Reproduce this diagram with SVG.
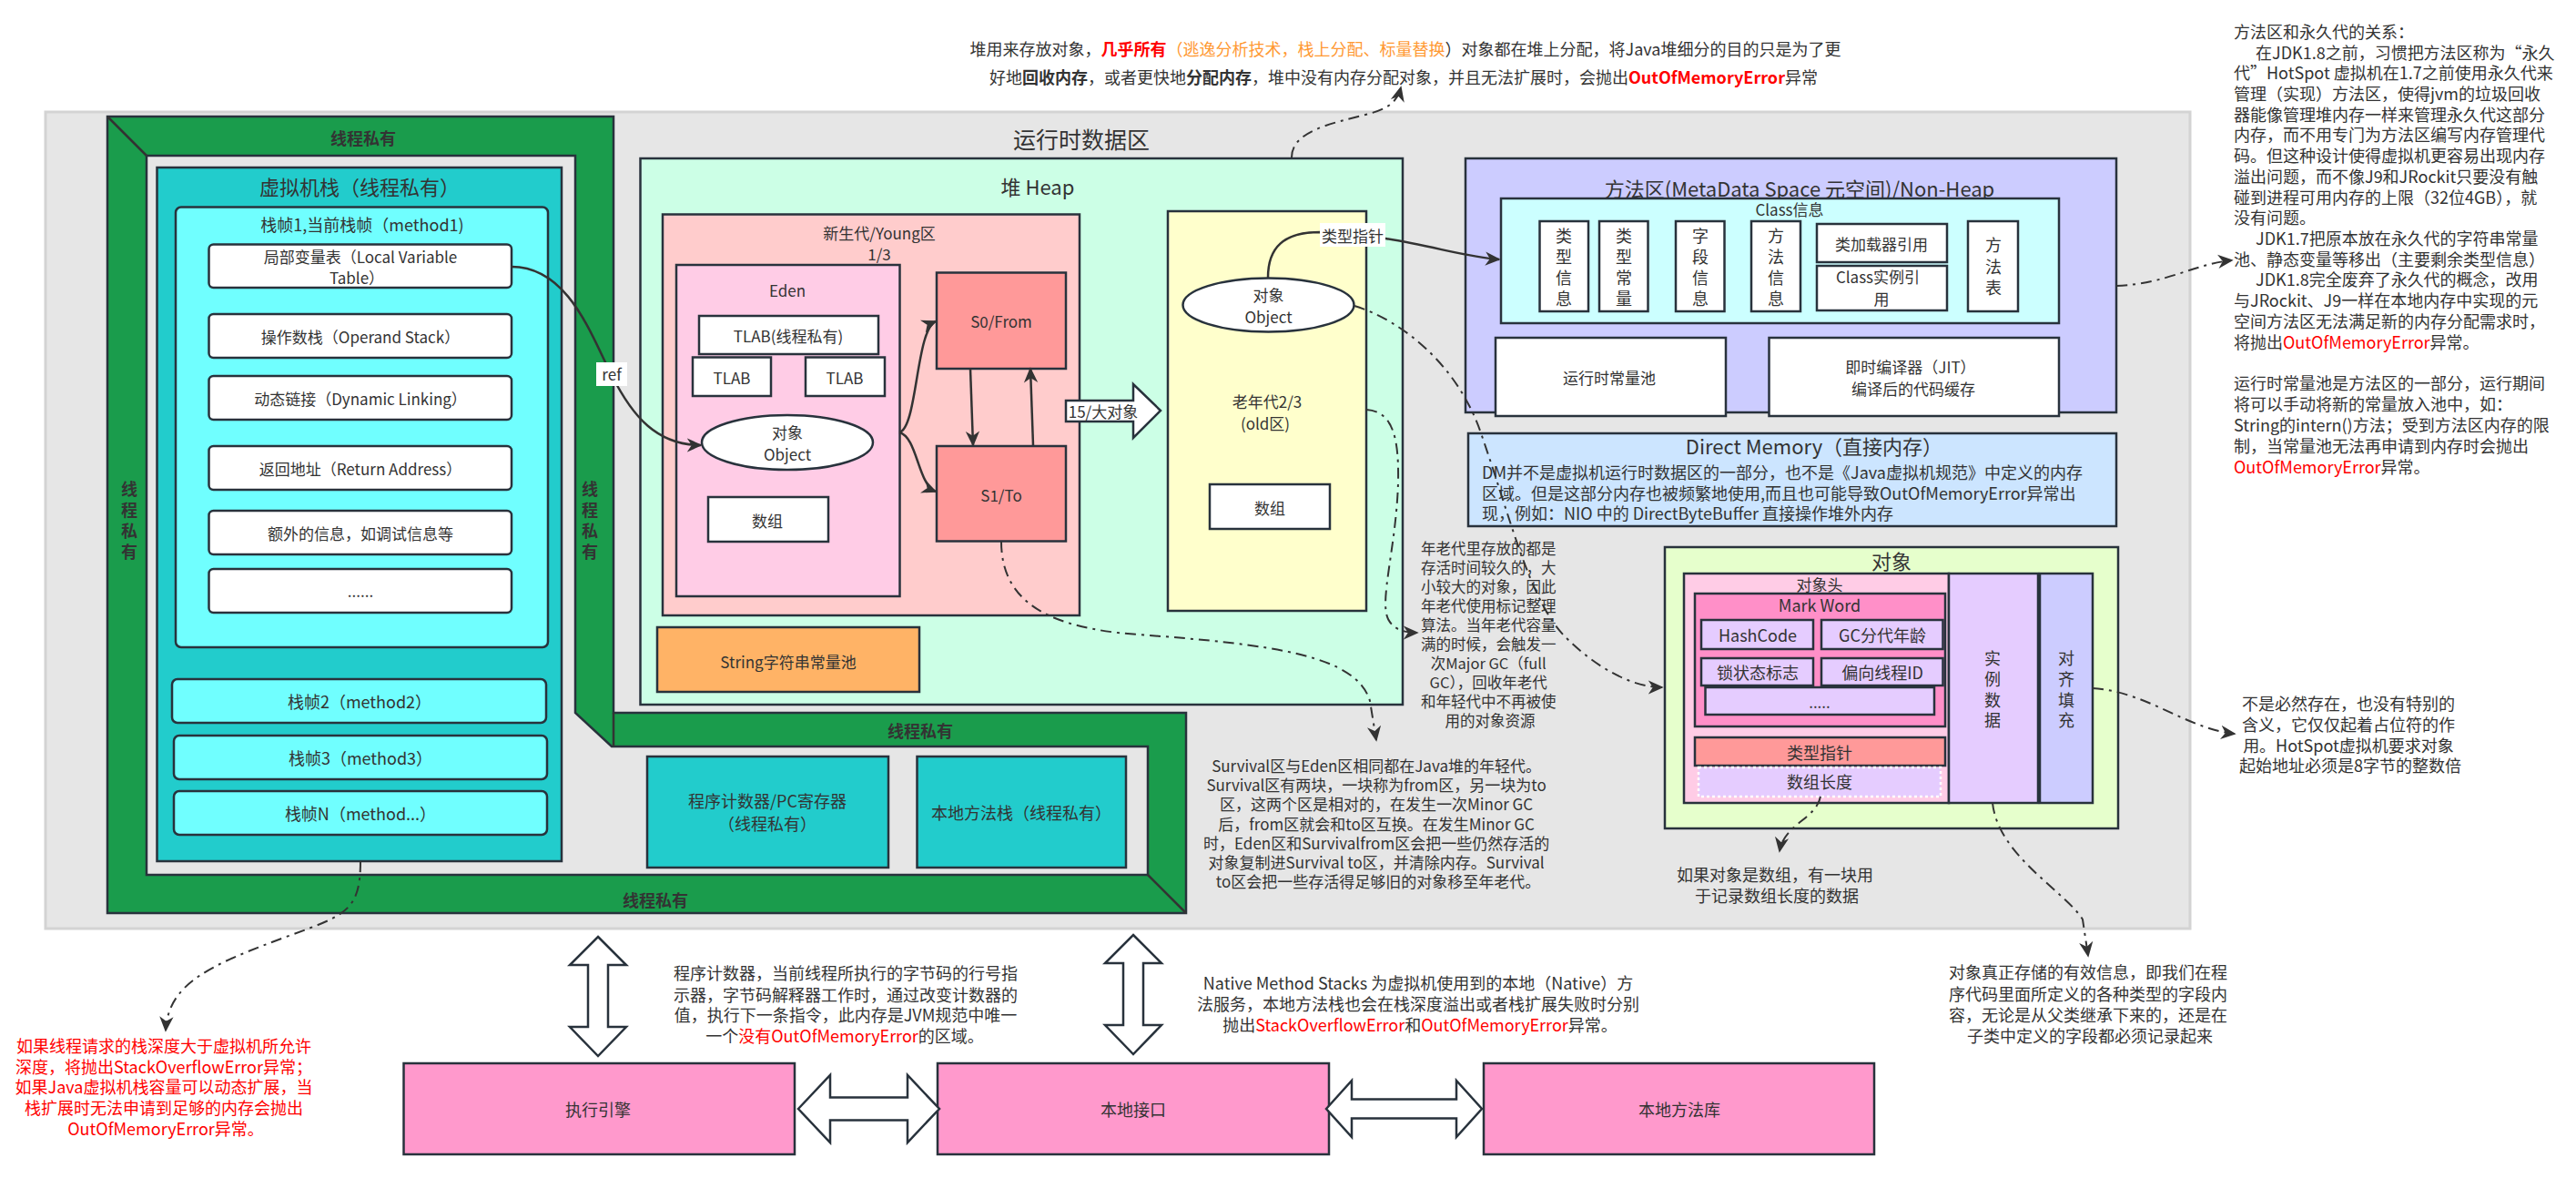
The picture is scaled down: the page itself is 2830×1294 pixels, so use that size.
<svg xmlns="http://www.w3.org/2000/svg" width="2830" height="1294" viewBox="0 0 2830 1294">
<defs>
<style>
text{font-family:"Noto Sans CJK SC","Noto Sans",sans-serif;fill:#333;dominant-baseline:central}
.c{text-anchor:middle}
.f16{font-size:16.5px}
.f17{font-size:17px}
.f18{font-size:18px}
.f22{font-size:22px}
.f25{font-size:25px}
.bd{font-weight:bold}
.b{stroke:#28323c;stroke-width:2.5}
.red{fill:#ff0000}
.dd{fill:none;stroke:#333;stroke-width:2;stroke-dasharray:12 6 3 6}
.ln{fill:none;stroke:#333;stroke-width:2.5}
.w{fill:#ffffff}
</style>
<marker id="a" viewBox="0 0 10 10" refX="9" refY="5" markerWidth="17" markerHeight="17" markerUnits="userSpaceOnUse" orient="auto"><path d="M0,0.5 L10,5 L0,9.5 L3,5 Z" fill="#333"/></marker>
</defs>
<rect width="2830" height="1294" fill="#ffffff"/>

<g id="runtime-data-area">
<rect x="50" y="123" width="2356" height="897" fill="#e6e6e6" stroke="#d3d3d3" stroke-width="3"/>
<text x="1188" y="152" class="c f25">运行时数据区</text>
</g>

<g id="thread-private-frame">
<path d="M118,128 H674 V783 H1303 V1003 H118 Z" fill="#1a9c4c" class="b"/>
<path d="M161,171 H632 V783 L672,820 H1261 V961 H161 Z" fill="#e6e6e6" class="b"/>
<path d="M118,128 L161,171 M674,783 V820 M1261,961 L1303,1003" class="ln"/>
<text x="399" y="151" class="c f18 bd" fill="#222">线程私有</text>
<text x="1011" y="802" class="c f18 bd">线程私有</text>
<text x="720" y="988" class="c f18 bd">线程私有</text>
<text class="c f18 bd"><tspan x="142" y="536">线</tspan><tspan x="142" y="559">程</tspan><tspan x="142" y="582">私</tspan><tspan x="142" y="605">有</tspan></text>
<text class="c f18 bd"><tspan x="648" y="536">线</tspan><tspan x="648" y="559">程</tspan><tspan x="648" y="582">私</tspan><tspan x="648" y="605">有</tspan></text>
</g>

<g id="vm-stack">
<rect x="172.5" y="184" width="444.5" height="762" fill="#22cccc" class="b"/>
<text x="395" y="204" class="c f22">虚拟机栈（线程私有）</text>
</g>
<g id="frame1">
<rect x="193" y="227.5" width="409" height="483.5" rx="6" fill="#70ffff" class="b"/>
<text x="398" y="246" class="c f18">栈帧1,当前栈帧（method1)</text>
</g>
<g id="local-var-table">
<rect x="229.5" y="268.5" width="332.5" height="47.5" rx="5" class="w b"/>
<text x="396" y="281" class="c f17">局部变量表（Local Variable</text>
<text x="392" y="304" class="c f17">Table）</text>
</g>
<g id="operand-stack">
<rect x="229.5" y="345" width="332.5" height="48" rx="5" class="w b"/>
<text x="396" y="369" class="c f17">操作数栈（Operand Stack）</text>
</g>
<g id="dynamic-linking">
<rect x="229.5" y="413" width="332.5" height="48" rx="5" class="w b"/>
<text x="396" y="437" class="c f17">动态链接（Dynamic Linking）</text>
</g>
<g id="return-address">
<rect x="229.5" y="490" width="332.5" height="48" rx="5" class="w b"/>
<text x="396" y="514" class="c f17">返回地址（Return Address）</text>
</g>
<g id="extra-info">
<rect x="229.5" y="561" width="332.5" height="48" rx="5" class="w b"/>
<text x="396" y="585" class="c f17">额外的信息，如调试信息等</text>
</g>
<g id="etc-box">
<rect x="229.5" y="625" width="332.5" height="48" rx="5" class="w b"/>
<text x="396" y="648" class="c f17">......</text>
</g>
<g id="frame2">
<rect x="189" y="746" width="411" height="48" rx="6" fill="#70ffff" class="b"/>
<text x="395" y="770" class="c f18">栈帧2（method2）</text>
</g>
<g id="frame3">
<rect x="191" y="808" width="410" height="48" rx="6" fill="#70ffff" class="b"/>
<text x="396" y="832" class="c f18">栈帧3（method3）</text>
</g>
<g id="frameN">
<rect x="191" y="869" width="410" height="48" rx="6" fill="#70ffff" class="b"/>
<text x="396" y="893" class="c f18">栈帧N（method...）</text>
</g>

<g id="pc-register">
<rect x="711" y="831" width="265" height="122" fill="#22cccc" class="b"/>
<text x="843" y="879" class="c f18">程序计数器/PC寄存器</text>
<text x="843" y="904" class="c f18">（线程私有）</text>
</g>
<g id="native-stack">
<rect x="1007.5" y="831" width="229.5" height="122" fill="#22cccc" class="b"/>
<text x="1122" y="892" class="c f18">本地方法栈（线程私有）</text>
</g>

<g id="heap">
<rect x="703.5" y="174" width="837.5" height="600" fill="#ccffe6" class="b"/>
<text x="1140" y="204" class="c f22">堆 Heap</text>
</g>
<g id="young">
<rect x="728" y="235.5" width="458" height="440.5" fill="#ffcccc" class="b"/>
<text x="966" y="255" class="c f17">新生代/Young区</text>
<text x="966" y="278" class="c f17">1/3</text>
</g>
<g id="eden">
<rect x="743" y="291" width="245.5" height="364" fill="#ffcce6" class="b"/>
<text x="865" y="318" class="c f17">Eden</text>
</g>
<g id="tlab-main">
<rect x="768" y="347" width="197" height="42" class="w b"/>
<text x="866" y="368" class="c f17">TLAB(线程私有)</text>
</g>
<g id="tlab-1">
<rect x="761" y="392.5" width="86" height="42.5" class="w b"/>
<text x="804" y="414" class="c f17">TLAB</text>
</g>
<g id="tlab-2">
<rect x="885" y="392.5" width="87" height="42.5" class="w b"/>
<text x="928" y="414" class="c f17">TLAB</text>
</g>
<g id="eden-object">
<ellipse cx="865" cy="486" rx="94" ry="30" class="w b"/>
<text x="865" y="474" class="c f17">对象</text>
<text x="865" y="498" class="c f17">Object</text>
</g>
<g id="eden-array">
<rect x="778" y="546" width="132" height="49" class="w b"/>
<text x="843" y="571" class="c f17">数组</text>
</g>
<g id="s0">
<rect x="1029" y="299.5" width="142" height="105.5" fill="#ff9999" class="b"/>
<text x="1100" y="352" class="c f17">S0/From</text>
</g>
<g id="s1">
<rect x="1029" y="490" width="142" height="104.5" fill="#ff9999" class="b"/>
<text x="1100" y="543" class="c f17">S1/To</text>
</g>
<g id="old">
<rect x="1283" y="232" width="218" height="439" fill="#ffffcc" class="b"/>
<text x="1392" y="440" class="c f17">老年代2/3</text>
<text x="1390" y="464" class="c f17">(old区)</text>
</g>
<g id="old-object">
<ellipse cx="1393.5" cy="335" rx="94" ry="29.5" class="w b"/>
<text x="1393.5" y="323" class="c f17">对象</text>
<text x="1393.5" y="347" class="c f17">Object</text>
</g>
<g id="old-array">
<rect x="1329" y="532" width="132" height="49" class="w b"/>
<text x="1395" y="557" class="c f17">数组</text>
</g>
<g id="string-pool">
<rect x="722" y="689" width="288" height="71" fill="#ffb366" class="b"/>
<text x="866" y="726" class="c f17">String字符串常量池</text>
</g>

<g id="method-area">
<rect x="1610" y="174" width="715" height="279" fill="#ccccff" class="b"/>
<text x="1977" y="206" class="c f22">方法区(MetaData Space 元空间)/Non-Heap</text>
</g>
<g id="class-info">
<rect x="1649" y="218" width="613" height="137" fill="#ccffff" class="b"/>
<text x="1966" y="229" class="c f17">Class信息</text>
</g>
<g id="type-info">
<rect x="1691.5" y="243" width="53.5" height="99" class="w b"/>
<text class="c f18"><tspan x="1718" y="258">类</tspan><tspan x="1718" y="281">型</tspan><tspan x="1718" y="304">信</tspan><tspan x="1718" y="327">息</tspan></text>
</g>
<g id="type-const">
<rect x="1757" y="243" width="53.5" height="99" class="w b"/>
<text class="c f18"><tspan x="1784" y="258">类</tspan><tspan x="1784" y="281">型</tspan><tspan x="1784" y="304">常</tspan><tspan x="1784" y="327">量</tspan></text>
</g>
<g id="field-info">
<rect x="1841" y="243" width="53.5" height="99" class="w b"/>
<text class="c f18"><tspan x="1868" y="258">字</tspan><tspan x="1868" y="281">段</tspan><tspan x="1868" y="304">信</tspan><tspan x="1868" y="327">息</tspan></text>
</g>
<g id="method-info">
<rect x="1924" y="243" width="54" height="99" class="w b"/>
<text class="c f18"><tspan x="1951" y="258">方</tspan><tspan x="1951" y="281">法</tspan><tspan x="1951" y="304">信</tspan><tspan x="1951" y="327">息</tspan></text>
</g>
<g id="classloader-ref">
<rect x="1996" y="246" width="143" height="42" class="w b"/>
<text x="2067" y="267" class="c f17">类加载器引用</text>
</g>
<g id="class-instance-ref">
<rect x="1996" y="292" width="143" height="49" class="w b"/>
<text x="2063" y="303" class="c f17">Class实例引</text>
<text x="2067" y="327" class="c f17">用</text>
</g>
<g id="method-table">
<rect x="2162" y="243" width="55" height="99" class="w b"/>
<text class="c f18"><tspan x="2190" y="268">方</tspan><tspan x="2190" y="292">法</tspan><tspan x="2190" y="315">表</tspan></text>
</g>
<g id="runtime-const-pool">
<rect x="1643" y="371" width="253" height="86" class="w b"/>
<text x="1768" y="414" class="c f17">运行时常量池</text>
</g>
<g id="jit-cache">
<rect x="1943.5" y="371" width="318.5" height="86" class="w b"/>
<text x="2099" y="402" class="c f17">即时编译器（JIT）</text>
<text x="2102" y="426" class="c f17">编译后的代码缓存</text>
</g>

<g id="direct-memory">
<rect x="1613" y="476" width="712" height="102" fill="#cce5ff" class="b"/>
<text x="1993" y="489" class="c f22">Direct Memory（直接内存）</text>
<text x="1628" y="518" class="f18">DM并不是虚拟机运行时数据区的一部分，也不是《Java虚拟机规范》中定义的内存</text>
<text x="1628" y="541" class="f18">区域。但是这部分内存也被频繁地使用,而且也可能导致OutOfMemoryError异常出</text>
<text x="1628" y="563" class="f18">现，例如：NIO 中的 DirectByteBuffer 直接操作堆外内存</text>
</g>

<g id="object">
<rect x="1829" y="601" width="498" height="309" fill="#e6ffcc" class="b"/>
<text x="2078" y="615" class="c f22">对象</text>
</g>
<g id="object-header">
<rect x="1850" y="630" width="291" height="252" fill="#ffcce6" class="b"/>
<text x="1999" y="641" class="c f17">对象头</text>
</g>
<g id="mark-word">
<rect x="1862" y="652" width="275" height="146" fill="#ff8fc8" class="b"/>
<text x="1999" y="664" class="c f18">Mark Word</text>
</g>
<g id="hashcode">
<rect x="1869" y="681" width="123" height="32" fill="#e5ccff" class="b"/>
<text x="1931" y="697" class="c f18">HashCode</text>
</g>
<g id="gc-age">
<rect x="2001" y="681" width="133.5" height="32" fill="#e5ccff" class="b"/>
<text x="2068" y="697" class="c f18">GC分代年龄</text>
</g>
<g id="lock-flag">
<rect x="1869" y="723" width="123" height="30" fill="#e5ccff" class="b"/>
<text x="1931" y="738" class="c f18">锁状态标志</text>
</g>
<g id="biased-thread">
<rect x="2001" y="723" width="133.5" height="30" fill="#e5ccff" class="b"/>
<text x="2068" y="738" class="c f18">偏向线程ID</text>
</g>
<g id="mark-etc">
<rect x="1873.5" y="755" width="251.5" height="30" fill="#e5ccff" class="b"/>
<text x="1999" y="770" class="c f17">.....</text>
</g>
<g id="klass-pointer">
<rect x="1862" y="810" width="275" height="31" fill="#ff9999" class="b"/>
<text x="1999" y="826" class="c f18">类型指针</text>
</g>
<g id="array-length">
<rect x="1866" y="843" width="266" height="32" fill="#e5ccff" stroke="#ffffff" stroke-width="2.5" stroke-dasharray="3 3"/>
<text x="1999" y="858" class="c f18">数组长度</text>
</g>
<g id="instance-data">
<rect x="2141" y="630" width="98" height="252" fill="#e5ccff" class="b"/>
<text class="c f18"><tspan x="2189" y="722">实</tspan><tspan x="2189" y="745">例</tspan><tspan x="2189" y="768">数</tspan><tspan x="2189" y="790">据</tspan></text>
</g>
<g id="padding">
<rect x="2241" y="630" width="58" height="252" fill="#ccccff" class="b"/>
<text class="c f18"><tspan x="2270" y="722">对</tspan><tspan x="2270" y="745">齐</tspan><tspan x="2270" y="768">填</tspan><tspan x="2270" y="790">充</tspan></text>
</g>

<g id="exec-engine">
<rect x="443.5" y="1168" width="429.5" height="100" fill="#ff99cc" class="b"/>
<text x="657" y="1218" class="c f18">执行引擎</text>
</g>
<g id="native-interface">
<rect x="1030" y="1168" width="430" height="100" fill="#ff99cc" class="b"/>
<text x="1245" y="1218" class="c f18">本地接口</text>
</g>
<g id="native-lib">
<rect x="1630" y="1168" width="429" height="100" fill="#ff99cc" class="b"/>
<text x="1845" y="1218" class="c f18">本地方法库</text>
</g>

<g id="notes">
<text x="1544" y="53" class="c f18">堆用来存放对象，<tspan class="red bd">几乎所有</tspan><tspan fill="#ff9933">（逃逸分析技术，栈上分配、标量替换</tspan>）对象都在堆上分配，将Java堆细分的目的只是为了更</text>
<text x="1542" y="84" class="c f18">好地<tspan class="bd">回收内存</tspan>，或者更快地<tspan class="bd">分配内存</tspan>，堆中没有内存分配对象，并且无法扩展时，会抛出<tspan class="red bd">OutOfMemoryError</tspan>异常</text>

<text class="f18">
<tspan x="2454" y="34">方法区和永久代的关系：</tspan>
<tspan x="2478" y="57">在JDK1.8之前，习惯把方法区称为“永久</tspan>
<tspan x="2454" y="79">代”HotSpot 虚拟机在1.7之前使用永久代来</tspan>
<tspan x="2454" y="102">管理（实现）方法区，使得jvm的垃圾回收</tspan>
<tspan x="2454" y="125">器能像管理堆内存一样来管理永久代这部分</tspan>
<tspan x="2454" y="147">内存，而不用专门为方法区编写内存管理代</tspan>
<tspan x="2454" y="170">码。但这种设计使得虚拟机更容易出现内存</tspan>
<tspan x="2454" y="193">溢出问题，而不像J9和JRockit只要没有触</tspan>
<tspan x="2454" y="216">碰到进程可用内存的上限（32位4GB），就</tspan>
<tspan x="2454" y="238">没有问题。</tspan>
<tspan x="2478" y="261">JDK1.7把原本放在永久代的字符串常量</tspan>
<tspan x="2454" y="284">池、静态变量等移出（主要剩余类型信息）</tspan>
<tspan x="2478" y="306">JDK1.8完全废弃了永久代的概念，改用</tspan>
<tspan x="2454" y="329">与JRockit、J9一样在本地内存中实现的元</tspan>
<tspan x="2454" y="352">空间方法区无法满足新的内存分配需求时，</tspan>
<tspan x="2454" y="375">将抛出<tspan class="red">OutOfMemoryError</tspan>异常。</tspan>
<tspan x="2454" y="420">运行时常量池是方法区的一部分，运行期间</tspan>
<tspan x="2454" y="443">将可以手动将新的常量放入池中，如：</tspan>
<tspan x="2454" y="466">String的intern()方法；受到方法区内存的限</tspan>
<tspan x="2454" y="489">制，当常量池无法再申请到内存时会抛出</tspan>
<tspan x="2454" y="512"><tspan class="red">OutOfMemoryError</tspan>异常。</tspan>
</text>

<text class="c f16">
<tspan x="1637" y="602">年老代里存放的都是</tspan>
<tspan x="1637" y="623">存活时间较久的，大</tspan>
<tspan x="1637" y="644">小较大的对象，因此</tspan>
<tspan x="1637" y="665">年老代使用标记整理</tspan>
<tspan x="1637" y="686">算法。当年老代容量</tspan>
<tspan x="1637" y="707">满的时候，会触发一</tspan>
<tspan x="1637" y="728">次Major GC（full</tspan>
<tspan x="1637" y="749">GC），回收年老代</tspan>
<tspan x="1637" y="770">和年轻代中不再被使</tspan>
<tspan x="1637" y="791">用的对象资源</tspan>
</text>

<text class="c f17">
<tspan x="1514" y="840">Survival区与Eden区相同都在Java堆的年轻代。</tspan>
<tspan x="1514" y="861">Survival区有两块，一块称为from区，另一块为to</tspan>
<tspan x="1514" y="882">区，这两个区是相对的，在发生一次Minor GC</tspan>
<tspan x="1514" y="904">后，from区就会和to区互换。在发生Minor GC</tspan>
<tspan x="1514" y="925">时，Eden区和Survivalfrom区会把一些仍然存活的</tspan>
<tspan x="1514" y="946">对象复制进Survival to区，并清除内存。Survival</tspan>
<tspan x="1514" y="967">to区会把一些存活得足够旧的对象移至年老代。</tspan>
</text>

<text class="c f18">
<tspan x="1952" y="960">如果对象是数组，有一块用</tspan>
<tspan x="1952" y="983">于记录数组长度的数据</tspan>
</text>

<text class="c f18">
<tspan x="2582" y="772">不是必然存在，也没有特别的</tspan>
<tspan x="2582" y="795">含义，它仅仅起着占位符的作</tspan>
<tspan x="2582" y="818">用。HotSpot虚拟机要求对象</tspan>
<tspan x="2582" y="840">起始地址必须是8字节的整数倍</tspan>
</text>

<text class="c f18">
<tspan x="2296" y="1067">对象真正存储的有效信息，即我们在程</tspan>
<tspan x="2296" y="1091">序代码里面所定义的各种类型的字段内</tspan>
<tspan x="2296" y="1114">容，无论是从父类继承下来的，还是在</tspan>
<tspan x="2296" y="1137">子类中定义的字段都必须记录起来</tspan>
</text>

<text class="c f18">
<tspan x="931" y="1068">程序计数器，当前线程所执行的字节码的行号指</tspan>
<tspan x="931" y="1092">示器，字节码解释器工作时，通过改变计数器的</tspan>
<tspan x="931" y="1114">值，执行下一条指令，此内存是JVM规范中唯一</tspan>
<tspan x="928" y="1137">一个<tspan class="red">没有OutOfMemoryError</tspan>的区域。</tspan>
</text>

<text class="c f18">
<tspan x="1560" y="1079">Native Method Stacks 为虚拟机使用到的本地（Native）方</tspan>
<tspan x="1560" y="1102">法服务，本地方法栈也会在栈深度溢出或者栈扩展失败时分别</tspan>
<tspan x="1560" y="1125">抛出<tspan class="red">StackOverflowError</tspan>和<tspan class="red">OutOfMemoryError</tspan>异常。</tspan>
</text>

<text class="c f18 red">
<tspan x="182" y="1148">如果线程请求的栈深度大于虚拟机所允许</tspan>
<tspan x="182" y="1171">深度，将抛出StackOverflowError异常；</tspan>
<tspan x="182" y="1193">如果Java虚拟机栈容量可以动态扩展，当</tspan>
<tspan x="182" y="1216">栈扩展时无法申请到足够的内存会抛出</tspan>
<tspan x="182" y="1239">OutOfMemoryError异常。</tspan>
</text>
</g>

<g id="connectors">
<path d="M562,293 C625,293 650,370 672,412 C695,458 722,489 770,489" class="ln" marker-end="url(#a)"/>
<rect x="655" y="398" width="34" height="26" fill="#ffffff"/>
<text x="672" y="410" class="c f17">ref</text>
<path d="M1393,305 C1393,272 1410,255 1450,255 C1540,258 1600,282 1647,285" class="ln" marker-end="url(#a)"/>
<rect x="1450" y="245" width="72" height="26" fill="#ffffff"/>
<text x="1486" y="258" class="c f17">类型指针</text>
<path d="M988,475 C1008,470 1006,362 1028,353" class="ln" marker-end="url(#a)"/>
<path d="M988,475 C1008,480 1008,532 1028,540" class="ln" marker-end="url(#a)"/>
<path d="M1066,405 L1069,489" class="ln" marker-end="url(#a)"/>
<path d="M1135,489 L1132,405" class="ln" marker-end="url(#a)"/>
<polygon points="1171,440 1245,440 1245,422 1275,451 1245,481 1245,463 1171,463" fill="#ffffff" class="b"/>
<text x="1212" y="451" class="c f17">15/大对象</text>

<path d="M1419,173 C1419,145 1460,136 1500,126 C1525,120 1535,112 1539,96" class="dd" marker-end="url(#a)"/>
<path d="M1488,336 C1540,352 1600,400 1626,473 C1660,570 1680,660 1720,700 C1750,730 1790,755 1826,755" class="dd" marker-end="url(#a)"/>
<path d="M1501,450 C1530,452 1537,480 1536,530 C1534,600 1515,660 1525,680 C1530,690 1540,695 1557,695" class="dd" marker-end="url(#a)"/>
<path d="M1100,595 C1100,660 1150,690 1250,697 C1400,708 1490,720 1505,770 L1512,813" class="dd" marker-end="url(#a)"/>
<path d="M396,946 C396,1000 380,1005 320,1027 C230,1060 185,1080 182,1132" class="dd" marker-end="url(#a)"/>
<path d="M2325,314 C2380,312 2410,290 2452,286" class="dd" marker-end="url(#a)"/>
<path d="M2299,756 C2360,760 2400,800 2455,806" class="dd" marker-end="url(#a)"/>
<path d="M2189,882 C2195,940 2270,980 2288,1010 L2294,1050" class="dd" marker-end="url(#a)"/>
<path d="M2000,875 C1995,900 1960,905 1955,935" class="dd" marker-end="url(#a)"/>

<polygon points="657,1029 688,1060 668,1060 668,1128 688,1128 657,1160 626,1128 646,1128 646,1060 626,1060" fill="#ffffff" class="b"/>
<polygon points="1245,1027 1276,1058 1256,1058 1256,1126 1276,1126 1245,1158 1214,1126 1234,1126 1234,1058 1214,1058" fill="#ffffff" class="b"/>
<polygon points="877,1218 912,1181 912,1205.5 997,1205.5 997,1181 1032,1218 997,1255 997,1230.5 912,1230.5 912,1255" fill="#ffffff" class="b"/>
<polygon points="1457,1218 1485,1187 1485,1207.5 1600,1207.5 1600,1187 1628,1218 1600,1249 1600,1228.5 1485,1228.5 1485,1249" fill="#ffffff" class="b"/>
</g>
</svg>
